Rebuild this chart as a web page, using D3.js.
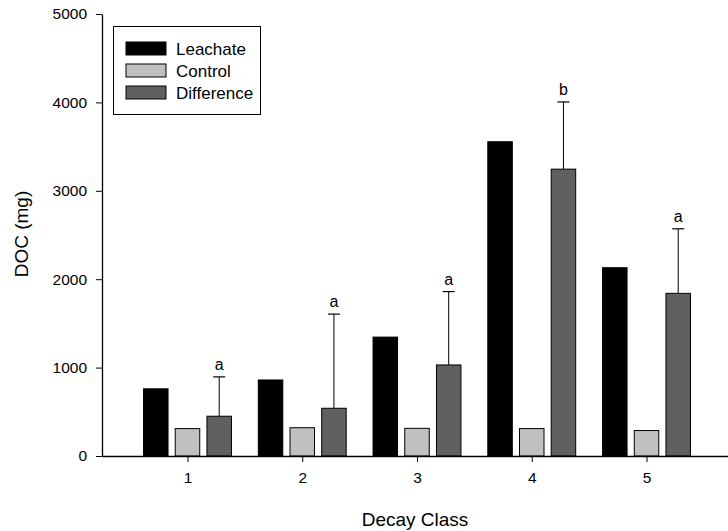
<!DOCTYPE html>
<html>
<head>
<meta charset="utf-8">
<script src="https://cdn.jsdelivr.net/npm/d3@7"></script>
<style>
  body { margin: 0; background: #fff; }
  svg { display: block; font-family: "Liberation Sans", Arial, sans-serif; }
</style>
</head>
<body>
<svg id="chart" width="728" height="531"></svg>
<script>
// data
const classes = ["1", "2", "3", "4", "5"];
const seriesNames = ["Leachate", "Control", "Difference"];
const seriesColors = ["#000000", "#c0c0c0", "#606060"];
const leachate = [760, 860, 1345, 3555, 2130];
const control = [310, 320, 313, 310, 288];
const difference = [450, 540, 1030, 3245, 1840];
const diffError = [445, 1065, 830, 760, 730];
const letters = ["a", "a", "a", "b", "a"];
const yTicks = [0, 1000, 2000, 3000, 4000, 5000];

const svg = d3.select("#chart");
const x0 = 102, x1 = 732, yBottom = 456, yTop = 14;

const x = d3.scalePoint().domain(classes).range([x0, x1]).padding(0.745);
const y = d3.scaleLinear().domain([0, 5000]).range([yBottom, yTop]);

const barW = 24.5;
const offsets = [-31.7, 0, 31.7];
const values = [leachate, control, difference];

// bars
values.forEach((vals, s) => {
  svg.append("g")
    .selectAll("rect")
    .data(vals)
    .enter().append("rect")
    .attr("x", (d, i) => x(classes[i]) + offsets[s] - barW / 2)
    .attr("y", d => y(d))
    .attr("width", barW)
    .attr("height", d => yBottom - y(d))
    .attr("fill", seriesColors[s])
    .attr("stroke", "#000")
    .attr("stroke-width", 1);
});

// error bars on the Difference series (upper only)
const err = svg.append("g");
difference.forEach((d, i) => {
  const cx = x(classes[i]) + offsets[2];
  const top = y(d + diffError[i]);
  err.append("line")
    .attr("x1", cx).attr("x2", cx)
    .attr("y1", y(d)).attr("y2", top)
    .attr("stroke", "#000").attr("stroke-width", 1);
  err.append("line")
    .attr("x1", cx - 6).attr("x2", cx + 6)
    .attr("y1", top).attr("y2", top)
    .attr("stroke", "#000").attr("stroke-width", 1.2);
  err.append("text")
    .attr("x", cx)
    .attr("y", top - 7)
    .attr("text-anchor", "middle")
    .style("font-size", "16px")
    .text(letters[i]);
});

// axes
const yAxis = d3.axisLeft(y).tickValues(yTicks).tickFormat(d3.format("d"))
  .tickSize(6).tickPadding(9).tickSizeOuter(0);
svg.append("g")
  .attr("transform", `translate(${x0},0)`)
  .call(yAxis)
  .call(g => g.select(".domain").attr("stroke-width", 1.3))
  .call(g => g.selectAll("text").style("font-size", "15.5px").style("font-family", "Liberation Sans, Arial, sans-serif"));

const xAxis = d3.axisBottom(x).tickSize(6).tickPadding(10).tickSizeOuter(0);
svg.append("g")
  .attr("transform", `translate(0,${yBottom})`)
  .call(xAxis)
  .call(g => g.select(".domain").attr("stroke-width", 1.3))
  .call(g => g.selectAll("text").style("font-size", "15.5px").style("font-family", "Liberation Sans, Arial, sans-serif"));

// axis titles
svg.append("text")
  .attr("transform", "rotate(-90)")
  .attr("x", -234)
  .attr("y", 28)
  .attr("text-anchor", "middle")
  .style("font-size", "19px")
  .text("DOC (mg)");

svg.append("text")
  .attr("x", 415)
  .attr("y", 526)
  .attr("text-anchor", "middle")
  .style("font-size", "19px")
  .text("Decay Class");

// legend
const legend = svg.append("g");
legend.append("rect")
  .attr("x", 113.5).attr("y", 26.5)
  .attr("width", 147).attr("height", 88)
  .attr("fill", "#fff")
  .attr("stroke", "#000").attr("stroke-width", 1);
seriesNames.forEach((name, i) => {
  const ly = 42 + i * 22;
  legend.append("rect")
    .attr("x", 126).attr("y", ly)
    .attr("width", 40).attr("height", 13)
    .attr("fill", seriesColors[i])
    .attr("stroke", "#000").attr("stroke-width", 1);
  legend.append("text")
    .attr("x", 176).attr("y", ly + 12.5)
    .style("font-size", "17px")
    .text(name);
});
</script>
</body>
</html>
